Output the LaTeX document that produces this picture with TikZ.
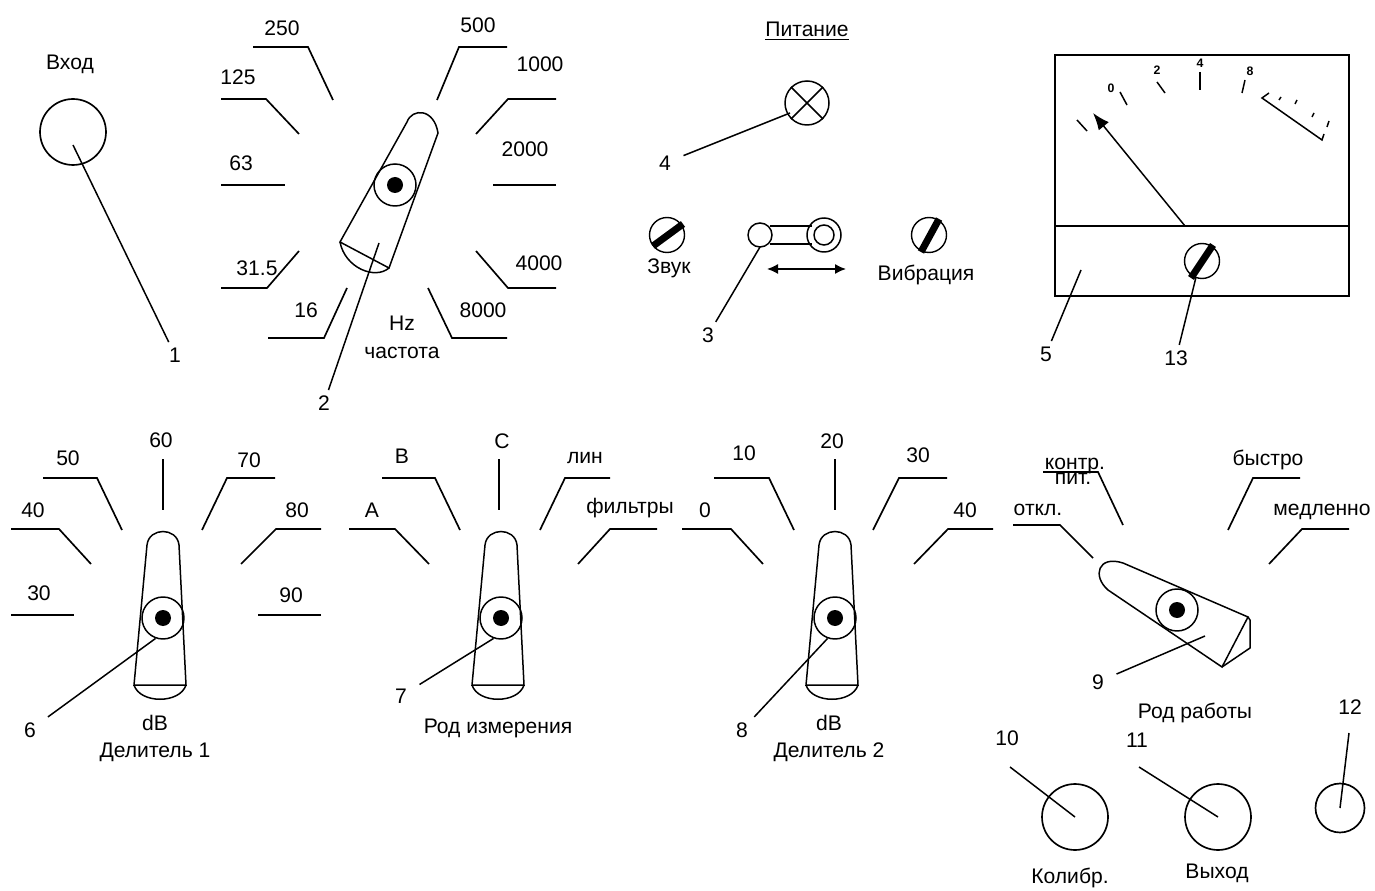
\documentclass[tikz,border=0pt]{standalone}
\usepackage{fontspec}
\setmainfont{Liberation Sans}
\usetikzlibrary{arrows.meta,positioning}

\begin{document}
\begin{tikzpicture}[
    x=0.02cm, y=-0.02cm,
    dialtext/.style={font=\fontsize{12}{14}\selectfont, inner sep=1pt},
    numlabel/.style={font=\fontsize{12}{14}\selectfont, inner xsep=7pt, inner ysep=3pt},
    shelf/.style={draw=black, line width=0.95pt},
    leader/.style={draw=black, line width=0.85pt},
    knobline/.style={draw=black, line width=0.85pt},
    hub/.style={circle, draw=black, line width=0.85pt, minimum size=0.84cm, inner sep=0pt},
    hubdot/.style={circle, fill=black, minimum size=0.32cm, inner sep=0pt},
    panelknob/.style={circle, draw=black, line width=0.8pt, minimum size=0.7cm, inner sep=0pt},
    roundknob/.style={circle, draw=black, line width=0.95pt, minimum size=1.32cm, inner sep=0pt},
    slot/.style={draw=black, line width=4pt},
    metertext/.style={font=\fontsize{7}{8}\selectfont\bfseries, inner sep=0pt},
  ]
    \useasboundingbox (0,0) rectangle (1375,891);
    \foreach \txt/\x/\y [count=\i] in {250/282/28, 125/238/77, 63/241/163, 31.5/257/268, 16/306/310, 500/478/25, 1000/540/64, 2000/525/149, 4000/539/263, 8000/483/310,
        50/68/458, 40/33/510, 30/39/593, 60/161/440, 70/249/460, 80/297/510, 90/291/595,
        A/372/510, B/402/456, C/502/441, лин/585/458, фильтры/630/508,
        0/705/510, 10/744/453, 20/832/441, 30/918/455, 40/965/510,
        контр./1075/466, пит./1073/479, откл./1038/510, быстро/1268/460, медленно/1322/512} {
      \node[dialtext] (scale\i) at (\x,\y) {\txt};
    }
    \foreach \ax/\bx/\by/\cx/\cy in {253/308/47/333/100, 221/266/99/299/134, 221/267/288/299/251, 268/324/338/347/288,
        507/459/47/437/100, 556/508/99/476/134, 556/508/288/476/251, 507/452/338/428/288,
        43/97/478/122/530, 11/59/529/91/564, 275/227/478/202/530, 321/276/529/241/564,
        349/395/529/429/564, 382/435/478/460/530, 610/565/478/540/530, 657/610/529/578/564,
        682/731/529/763/564, 714/769/478/794/530, 947/899/478/873/530, 993/948/529/914/564,
        1043/1098/472/1123/525, 1013/1060/525/1093/558, 1300/1253/478/1228/530, 1349/1302/529/1269/564} {
      \draw[shelf] (\ax,\by) -- (\bx,\by) -- (\cx,\cy);
    }
    \foreach \ax/\ay/\bx/\by in {221/185/285/185, 556/185/493/185, 11/615/74/615, 321/615/258/615, 163/459/163/510, 499/459/499/510, 835/459/835/510} {
      \draw[shelf] (\ax,\ay) -- (\bx,\by);
    }
    \node[dialtext] (inputtext) at (70,64) {Вход};
    \node[roundknob] (inputknob) at (73,132) {};
    \coordinate (pin1) at (73,145);
    \node[numlabel] (num1) at (175,355) {1};
    \draw[leader] (pin1) -- (num1);
    \draw[knobline] (340,242) -- (407,122) .. controls (412,108) and (434,108) .. (438,133) -- (389,268) -- cycle;
    \draw[knobline] (340,242) .. controls (345,268) and (375,280) .. (389,268);
    \node[hub] (freqhub) at (395,185) {};
    \node[hubdot] (freqdot) at (395,185) {};
    \coordinate (pin2) at (379,243);
    \node[numlabel] (num2) at (324,403) {2};
    \draw[leader] (pin2) -- (num2);
    \node[dialtext] (hztext) at (402,323) {Hz};
    \node[dialtext] (freqtext) at (402,353) {частота};
    \node[dialtext] (powertext) at (807,31) {\underline{Питание}};
    \node[hub, minimum size=0.88cm] (lamp) at (807,103) {};
    \draw[knobline] (lamp.45) -- (lamp.225) (lamp.135) -- (lamp.315);
    \coordinate (pin4) at (790,113);
    \node[numlabel] (num4) at (665,163) {4};
    \draw[leader] (pin4) -- (num4);
    \node[panelknob] (soundknob) at (667,235) {};
    \draw[slot] (653,246) -- (683,224);
    \node[dialtext] (soundtext) at (669,268) {Звук};
    \node[hub, minimum size=0.48cm] (switchball) at (760,235) {};
    \draw[knobline] (770,226) -- (812,226) (770,244) -- (812,244);
    \node[hub, minimum size=0.68cm] (switchring) at (824,235) {};
    \node[hub, minimum size=0.4cm] (switchhole) at (824,235) {};
    \draw[leader, {Latex[length=2.2mm,width=2mm]}-{Latex[length=2.2mm,width=2mm]}] (767,269) -- (846,269);
    \coordinate (pin3) at (760,247);
    \node[numlabel] (num3) at (708,335) {3};
    \draw[leader] (pin3) -- (num3);
    \node[panelknob] (vibknob) at (929,235) {};
    \draw[slot] (921,252) -- (939,219);
    \node[dialtext] (vibtext) at (926,275) {Вибрация};
    \draw[line width=1.1pt] (1055,55) rectangle (1349,296);
    \draw[line width=1.1pt] (1055,226) -- (1349,226);
    \coordinate (needlefoot) at (1185,226);
    \coordinate (needletip) at (1093,113);
    \draw[leader, -{Latex[length=3.4mm,width=2.6mm]}] (needlefoot) -- (needletip);
    \foreach \txt/\tx/\ty/\ax/\ay/\bx/\by in {0/1111/88/1120/92/1127/105, 2/1157/70/1157/82/1165/93, 4/1200/63/1200/72/1200/90, 8/1250/71/1245/80/1242/93} {
      \node[metertext] (mark\txt) at (\tx,\ty) {\txt};
      \draw[leader] (\ax,\ay) -- (\bx,\by);
    }
    \draw[leader] (1077,120) -- (1087,131);
    \draw[leader] (1269,93) -- (1262,98) -- (1322,140) -- (1324,134);
    \foreach \ax/\ay/\bx/\by in {1279/100/1281/97, 1295/104/1297/100, 1312/117/1314/113, 1327/127/1329/121} {
      \draw[leader] (\ax,\ay) -- (\bx,\by);
    }
    \node[panelknob] (meterknob) at (1202,261) {};
    \draw[slot] (1191,278) -- (1213,245);
    \coordinate (pin5) at (1081,270);
    \node[numlabel] (num5) at (1046,354) {5};
    \draw[leader] (pin5) -- (num5);
    \node[numlabel] (num13) at (1176,358) {13};
    \draw[leader] (meterknob.250) -- (num13);
    \foreach \dx/\hubname/\num/\nx/\ny in {0/hubA/6/30/730, 338/hubB/7/401/696, 672/hubC/8/742/730} {
      \begin{scope}[shift={(\dx,0)}]
        \draw[knobline] (134,685) -- (147,545) .. controls (149,527) and (177,527) .. (179,545) -- (186,685) -- cycle;
        \draw[knobline] (134,685) .. controls (140,704) and (180,704) .. (186,685);
        \node[hub] (\hubname) at (163,618) {};
        \node[hubdot] (\hubname dot) at (163,618) {};
      \end{scope}
      \node[numlabel] (num\num) at (\nx,\ny) {\num};
      \draw[leader] (\hubname.250) -- (num\num);
    }
    \node[dialtext] (dbtextA) at (155,723) {dB};
    \node[dialtext] (divtextA) at (155,752) {Делитель 1};
    \node[dialtext] (modetext) at (498,728) {Род измерения};
    \node[dialtext] (dbtextC) at (829,723) {dB};
    \node[dialtext] (divtextC) at (829,752) {Делитель 2};
    \draw[knobline] (1108,590) .. controls (1092,576) and (1098,555) .. (1123,563) -- (1248,617) -- (1222,667) -- cycle;
    \draw[knobline] (1248,617) -- (1250,620) -- (1250,648) -- (1222,667);
    \node[hub] (workhub) at (1177,610) {};
    \node[hubdot] (workdot) at (1177,610) {};
    \coordinate (pin9) at (1205,636);
    \node[numlabel] (num9) at (1098,682) {9};
    \draw[leader] (pin9) -- (num9);
    \node[dialtext] (worktext) at (1195,713) {Род работы};
    \node[roundknob] (calknob) at (1075,817) {};
    \node[roundknob] (outknob) at (1218,817) {};
    \node[roundknob, minimum size=0.98cm] (smallknob) at (1340,808) {};
    \node[dialtext] (num10) at (1007,738) {10};
    \node[dialtext] (num11) at (1137,740) {11};
    \node[dialtext] (num12) at (1350,707) {12};
    \coordinate (pin10) at (1010,767);
    \coordinate (pin11) at (1139,767);
    \coordinate (pin12) at (1349,733);
    \draw[leader] (pin10) -- (calknob.center);
    \draw[leader] (pin11) -- (outknob.center);
    \draw[leader] (pin12) -- (smallknob.center);
    \node[dialtext] (caltext) at (1070,878) {Колибр.};
    \node[dialtext] (outtext) at (1217,873) {Выход};
  \end{tikzpicture}
\end{document}
